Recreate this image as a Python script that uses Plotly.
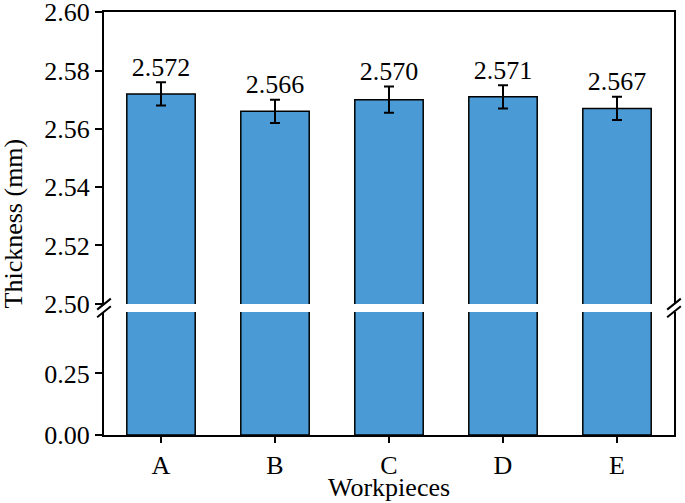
import plotly.graph_objects as go

# data
workpieces = ['A', 'B', 'C', 'D', 'E']
thickness = [2.572, 2.566, 2.570, 2.571, 2.567]
errors = [0.004, 0.004, 0.0045, 0.004, 0.004]
labels = ['2.572', '2.566', '2.570', '2.571', '2.567']

low_ticks = [0, 0.25]
high_ticks = [2.50, 2.52, 2.54, 2.56, 2.58, 2.60]

FONT = 'Liberation Serif, Times New Roman, serif'
FS = 26
BLUE = '#4A9BD5'
low_dom = [0, 0.291]
high_dom = [0.3097, 1]

fig = go.Figure()

# lower segment (0 - 0.5)
fig.add_trace(go.Bar(
    x=workpieces, y=thickness, width=0.6,
    marker=dict(color=BLUE, line=dict(color='black', width=1.5)),
    xaxis='x', yaxis='y', showlegend=False,
))

# upper segment (2.50 - 2.60) with error bars
fig.add_trace(go.Bar(
    x=workpieces, y=thickness, width=0.6,
    marker=dict(color=BLUE, line=dict(color='black', width=1.5)),
    error_y=dict(type='data', array=errors, color='black', thickness=2, width=5),
    xaxis='x2', yaxis='y2', showlegend=False,
))

# value labels above the error bars
fig.add_trace(go.Scatter(
    x=workpieces, y=[v + e for v, e in zip(thickness, errors)],
    mode='text', text=labels, textposition='top center',
    textfont=dict(family=FONT, size=FS, color='black'),
    cliponaxis=False, xaxis='x2', yaxis='y2', showlegend=False,
))

axis_common = dict(showline=True, linecolor='black', linewidth=2,
                   showgrid=False, zeroline=False, automargin=False,
                   ticklabeloverflow='allow',
                   tickfont=dict(family=FONT, size=FS, color='black'))

fig.update_layout(
    width=685, height=503,
    margin=dict(l=104, r=11, t=12, b=68, autoexpand=False),
    paper_bgcolor='white', plot_bgcolor='white',
    xaxis=dict(**axis_common, anchor='y', range=[-0.5, 4.5],
               ticks='outside', ticklen=6, tickwidth=2, tickcolor='black'),
    xaxis2=dict(**axis_common, anchor='y2', matches='x', range=[-0.5, 4.5],
                side='top', showticklabels=False, ticks=''),
    yaxis=dict(**axis_common, domain=low_dom, range=[0, 0.5], mirror=True,
               tickvals=low_ticks, tickformat='.2f',
               ticks='outside', ticklen=7, tickwidth=2, tickcolor='black'),
    yaxis2=dict(**axis_common, domain=high_dom, range=[2.4999, 2.6001], mirror=True,
                tickvals=high_ticks, tickformat='.2f',
                ticks='outside', ticklen=7, tickwidth=2, tickcolor='black'),
)

fig.add_annotation(
    text='Thickness (mm)', textangle=-90, showarrow=False,
    xref='paper', yref='paper', x=-0.158, y=0.5, xanchor='center', yanchor='middle',
    font=dict(family=FONT, size=FS, color='black'),
)
fig.add_annotation(
    text='Workpieces', showarrow=False,
    xref='paper', yref='paper', x=0.5, y=-0.123, xanchor='center', yanchor='middle',
    font=dict(family=FONT, size=FS, color='black'),
)

# axis break marks
mid = (low_dom[1] + high_dom[0]) / 2
for xd in (0, 1):
    for dy in (-0.009, 0.009):
        fig.add_shape(type='line', xref='x domain', yref='paper',
                      x0=xd - 0.012, x1=xd + 0.012,
                      y0=mid + dy - 0.013, y1=mid + dy + 0.013,
                      line=dict(color='black', width=2))

# drop the default 8px body margin so the figure sits at the window's corner
fig.write_html("out.html", config={'displayModeBar': False},
               post_script="document.body.style.margin = '0';")
